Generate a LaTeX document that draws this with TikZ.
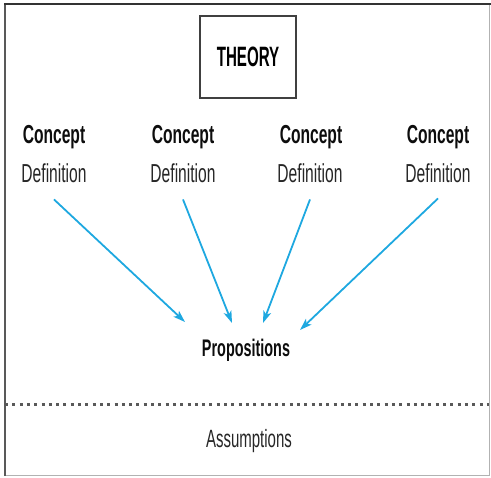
\documentclass[tikz,border=0pt]{standalone}
\usepackage{fontspec}
\setmainfont{Liberation Sans}
\newfontfamily\condfont[FakeStretch=0.6]{Liberation Sans}
\newfontfamily\theoryfont[FakeStretch=0.54]{Liberation Sans}
\usetikzlibrary{arrows.meta}
\definecolor{arrowblue}{RGB}{30,168,224}
\tikzstyle{concept}=[anchor=base, inner sep=0pt, font=\condfont\bfseries\fontsize{26}{30}\selectfont, text=black!95]
\tikzstyle{defn}=[anchor=base, inner sep=0pt, font=\condfont\fontsize{26}{30}\selectfont, text=black!85]
\tikzstyle{theorybox}=[rectangle, draw=black!75, line width=1.8pt, minimum width=96pt, minimum height=82pt, fill=white, font=\theoryfont\bfseries\fontsize{28}{32}\selectfont, text=black]
\tikzstyle{link}=[draw=arrowblue, line width=1.8pt, -{Stealth[length=12pt,width=8pt,inset=3pt]}]
\tikzstyle{dotline}=[draw=black!65, line width=3pt, dash pattern=on 3pt off 4.3pt]

\begin{document}
\begin{tikzpicture}[x=1pt,y=-1pt]
	\useasboundingbox (0,0) rectangle (491,478);

	% frame
	\draw[black!30, line width=1pt] (489,4) -- (489,476) -- (5,476);
	\draw[black!65, line width=1.3pt] (5,476) -- (5,4);
	\draw[black!80, line width=2pt] (4,4) -- (491,4);

	\node[theorybox](theory) at (248,57){THEORY};

	\node[concept](con1) at (54,144){Concept};
	\node[concept](con2) at (183,144){Concept};
	\node[concept](con3) at (311,144){Concept};
	\node[concept](con4) at (438,144){Concept};
	\node[defn](def1) at (54,183){Definition};
	\node[defn](def2) at (183,183){Definition};
	\node[defn](def3) at (310,183){Definition};
	\node[defn](def4) at (438,183){Definition};

	\node[concept, font=\condfont\bfseries\fontsize{24}{28}\selectfont](prop) at (246,357){Propositions};

	\coordinate (p1) at (185,322);
	\coordinate (p2) at (232,323);
	\coordinate (p3) at (263,323);
	\coordinate (p4) at (300,330);

	\draw[link] ([yshift=-16pt]def1.south) -- (p1);
	\draw[link] ([yshift=-16pt]def2.south) -- (p2);
	\draw[link] ([yshift=-16pt]def3.south) -- (p3);
	\draw[link] ([yshift=-15pt]def4.south) -- (p4);

	% assumptions below the line
	\coordinate (lineleft) at (5,405);
	\coordinate (lineright) at (489,405);
	\draw[dotline] (lineleft) -- (lineright);
	\node[defn, font=\condfont\fontsize{25}{29}\selectfont](assum) at (249,448){Assumptions};

\end{tikzpicture}
\end{document}
